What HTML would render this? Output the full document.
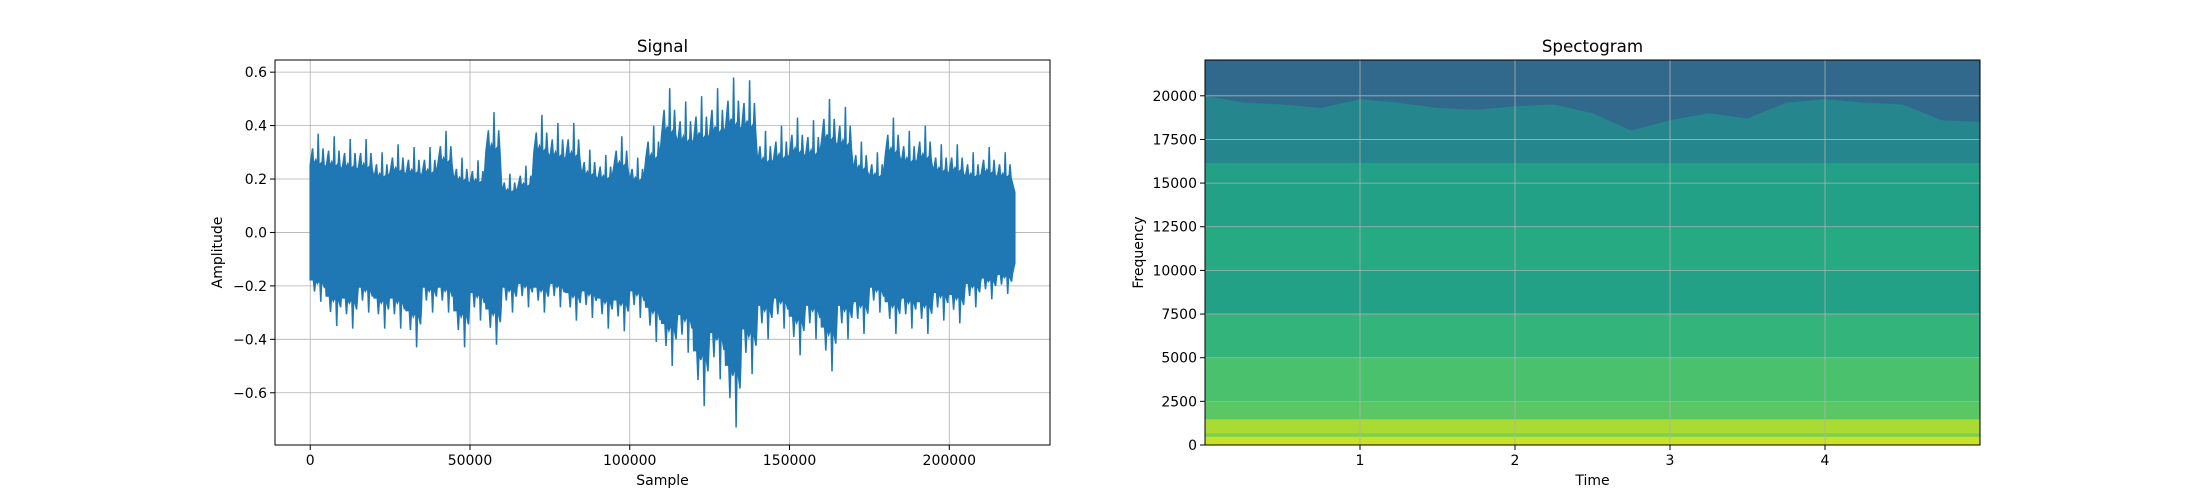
<!DOCTYPE html>
<html><head><meta charset="utf-8"><style>
html,body{margin:0;padding:0;background:#fff;}
svg{display:block;font-family:"DejaVu Sans","Liberation Sans",sans-serif;}
</style></head><body>
<svg id="fig" width="2200" height="500" viewBox="0 0 2200 500">
  <rect width="2200" height="500" fill="#fff"/>
  <g id="left"></g>
  <g id="right"></g>
</svg>
<script>
// ---- Signal data (envelope per 5000-sample bin) ----
const sigBinSize = 5000;
const sigTotal = 220500;
const sigMax = [0.37,0.36,0.35,0.35,0.30,0.33,0.32,0.32,0.38,0.28,0.27,0.45,0.22,0.25,0.44,0.41,0.41,0.31,0.29,0.36,0.28,0.40,0.54,0.49,0.51,0.54,0.58,0.57,0.38,0.40,0.43,0.42,0.50,0.47,0.34,0.30,0.43,0.38,0.40,0.33,0.33,0.30,0.32,0.30];
const sigMin = [-0.26,-0.35,-0.36,-0.30,-0.36,-0.36,-0.43,-0.30,-0.30,-0.43,-0.33,-0.42,-0.30,-0.28,-0.30,-0.28,-0.33,-0.32,-0.36,-0.37,-0.32,-0.41,-0.50,-0.45,-0.65,-0.55,-0.73,-0.53,-0.40,-0.36,-0.46,-0.40,-0.52,-0.40,-0.38,-0.30,-0.38,-0.36,-0.38,-0.33,-0.34,-0.28,-0.25,-0.23];
const sigXTicks = [0,50000,100000,150000,200000];
const sigYTicks = [-0.6,-0.4,-0.2,0.0,0.2,0.4,0.6];
const sigYTickLabels = ["\u22120.6","\u22120.4","\u22120.2","0.0","0.2","0.4","0.6"];

// ---- Spectrogram data ----
const specBandEdges = [0,500,700,1500,2500,5000,7500,10000,12500,16100];
const specBandLevels = [0.92,0.8,0.87,0.74,0.71,0.65,0.57,0.61,0.57];
const specTealLevel = 0.46;
const specDarkLevel = 0.34;
const specDarkEdgeTimes = [0,0.25,0.5,0.75,1,1.25,1.5,1.75,2,2.25,2.5,2.75,3,3.25,3.5,3.75,4,4.25,4.5,4.75,5];
const specDarkEdge = [20000,19600,19500,19300,19800,19600,19300,19200,19400,19500,19000,18000,18600,19000,18700,19600,19800,19600,19500,18600,18500];
const specXTicks = [1,2,3,4];
const specYTicks = [0,2500,5000,7500,10000,12500,15000,17500,20000];

const NS="http://www.w3.org/2000/svg";
function mk(parent,tag,attrs,text){const e=document.createElementNS(NS,tag);for(const k in attrs)e.setAttribute(k,attrs[k]);if(text!==undefined)e.textContent=text;parent.appendChild(e);return e;}

const viridisStops=[[0,"#440154"],[0.1,"#482475"],[0.2,"#414487"],[0.3,"#355f8d"],[0.4,"#2a788e"],[0.5,"#21918c"],[0.6,"#22a884"],[0.7,"#44bf70"],[0.8,"#7ad151"],[0.9,"#bddf26"],[1,"#fde725"]];
function hex(c){return [parseInt(c.slice(1,3),16),parseInt(c.slice(3,5),16),parseInt(c.slice(5,7),16)];}
function viridis(v){v=Math.max(0,Math.min(1,v));for(let i=1;i<viridisStops.length;i++){if(v<=viridisStops[i][0]){const a=viridisStops[i-1],b=viridisStops[i];const t=(v-a[0])/(b[0]-a[0]);const ca=hex(a[1]),cb=hex(b[1]);return "rgb("+ca.map((x,j)=>Math.round(x+(cb[j]-x)*t)).join(",")+")";}}return viridisStops[10][1];}

// ===== Left chart =====
(function(){
  const g=document.getElementById('left');
  const L=275,R=1050,T=60,B=445;
  const xmin=-11025,xmax=231525;
  const ymin=-0.7955,ymax=0.6455;
  const sx=v=>L+(v-xmin)/(xmax-xmin)*(R-L);
  const sy=v=>B-(v-ymin)/(ymax-ymin)*(B-T);
  const clip=mk(g,'clipPath',{id:'clipL'});
  mk(clip,'rect',{x:L,y:T,width:R-L,height:B-T});
  sigXTicks.forEach(t=>{const l=mk(g,'line',{x1:sx(t),x2:sx(t),y1:T,y2:B,stroke:'#b0b0b0','stroke-width':0.8});
    
    });
  sigYTicks.forEach(t=>{const l=mk(g,'line',{x1:L,x2:R,y1:sy(t),y2:sy(t),stroke:'#b0b0b0','stroke-width':0.8});
    
    });
  const up=[],lo=[];
  sigMax.forEach((mx,i)=>{
    const s0=i*sigBinSize, s1=Math.min(sigTotal,(i+1)*sigBinSize), w=s1-s0;
    const mn=sigMin[i];
    const ch=mx*0.68, cl=mn*0.68;
    const pts=[[0,ch],[0.15,mx*0.85],[0.22,ch],[0.35,ch*1.08],[0.45,ch],[0.5,mx],[0.55,ch],[0.75,ch*1.05],[0.8,mx*0.85],[0.87,ch]];
    const ptl=[[0,cl],[0.2,cl],[0.27,mn*0.85],[0.34,cl],[0.45,cl*1.08],[0.6,cl],[0.66,mn],[0.72,cl],[0.9,mn*0.8],[0.95,cl]];
    pts.forEach(p=>up.push([sx(s0+p[0]*w),sy(p[1])]));
    ptl.forEach(p=>lo.push([sx(s0+p[0]*w),sy(p[1])]));
  });
  const lastX=sx(sigTotal);
  up.push([lastX,sy(sigMax[sigMax.length-1]*0.5)]);
  lo.push([lastX,sy(sigMin[sigMin.length-1]*0.5)]);
  const d='M'+up.map(p=>p[0].toFixed(1)+','+p[1].toFixed(1)).join('L')+'L'+lo.reverse().map(p=>p[0].toFixed(1)+','+p[1].toFixed(1)).join('L')+'Z';
  const path=mk(g,'path',{d:d,fill:'#1f77b4',stroke:'#1f77b4','stroke-width':1.5,'stroke-linejoin':'miter','clip-path':'url(#clipL)'});
  
  
  const fr=mk(g,'rect',{x:L,y:T,width:R-L,height:B-T,fill:'none',stroke:'#000','stroke-width':1});
  
  
  sigXTicks.forEach(t=>{mk(g,'line',{x1:sx(t),x2:sx(t),y1:B,y2:B+5,stroke:'#000'});
    const tx=mk(g,'text',{x:sx(t),y:B+20,'font-size':14,'text-anchor':'middle'},String(t));
    
    });
  sigYTicks.forEach((t,i)=>{mk(g,'line',{x1:L-5,x2:L,y1:sy(t),y2:sy(t),stroke:'#000'});
    const tx=mk(g,'text',{x:L-8,y:sy(t)+5,'font-size':14,'text-anchor':'end'},sigYTickLabels[i]);
    
    });
  const ti=mk(g,'text',{x:(L+R)/2,y:52,'font-size':16.7,'text-anchor':'middle'},'Signal');
  
  
  const xl=mk(g,'text',{x:(L+R)/2,y:485,'font-size':14,'text-anchor':'middle'},'Sample');
  
  
  const yl=mk(g,'text',{x:0,y:0,'font-size':14,'text-anchor':'middle',transform:'translate(222,'+((T+B)/2)+') rotate(-90)'},'Amplitude');
  
  
})();

// ===== Right chart =====
(function(){
  const g=document.getElementById('right');
  const L=1205,R=1980,T=60,B=445;
  const xmin=0,xmax=5,ymin=0,ymax=22050;
  const sx=v=>L+(v-xmin)/(xmax-xmin)*(R-L);
  const sy=v=>B-(v-ymin)/(ymax-ymin)*(B-T);
  specBandLevels.forEach((lv,i)=>{
    const r=mk(g,'rect',{x:L,y:sy(specBandEdges[i+1]),width:R-L,height:sy(specBandEdges[i])-sy(specBandEdges[i+1])+0.5,fill:viridis(lv)});
    
    
  });
  const topBand=specBandEdges[specBandEdges.length-1];
  const tb=mk(g,'rect',{x:L,y:T,width:R-L,height:sy(topBand)-T,fill:viridis(specTealLevel)});
  
  
  let dd='M'+sx(specDarkEdgeTimes[0])+','+T;
  specDarkEdgeTimes.forEach((t,i)=>{dd+='L'+sx(t).toFixed(1)+','+sy(specDarkEdge[i]).toFixed(1);});
  dd+='L'+R+','+T+'Z';
  const dk=mk(g,'path',{d:dd,fill:viridis(specDarkLevel)});
  
  
  specXTicks.forEach(t=>{const l=mk(g,'line',{x1:sx(t),x2:sx(t),y1:T,y2:B,stroke:'#b0b0b0','stroke-width':0.8});
    
    });
  specYTicks.forEach(t=>{const l=mk(g,'line',{x1:L,x2:R,y1:sy(t),y2:sy(t),stroke:'#b0b0b0','stroke-width':0.8});
    
    });
  const fr=mk(g,'rect',{x:L,y:T,width:R-L,height:B-T,fill:'none',stroke:'#000','stroke-width':1});
  
  
  specXTicks.forEach(t=>{mk(g,'line',{x1:sx(t),x2:sx(t),y1:B,y2:B+5,stroke:'#000'});
    const tx=mk(g,'text',{x:sx(t),y:B+20,'font-size':14,'text-anchor':'middle'},String(t));
    
    });
  specYTicks.forEach(t=>{mk(g,'line',{x1:L-5,x2:L,y1:sy(t),y2:sy(t),stroke:'#000'});
    const tx=mk(g,'text',{x:L-8,y:sy(t)+5,'font-size':14,'text-anchor':'end'},String(t));
    
    });
  const ti=mk(g,'text',{x:(L+R)/2,y:52,'font-size':16.7,'text-anchor':'middle'},'Spectogram');
  
  
  const xl=mk(g,'text',{x:(L+R)/2,y:485,'font-size':14,'text-anchor':'middle'},'Time');
  
  
  const yl=mk(g,'text',{x:0,y:0,'font-size':14,'text-anchor':'middle',transform:'translate(1143,'+((T+B)/2)+') rotate(-90)'},'Frequency');
  
  
})();
</script>
</body></html>
